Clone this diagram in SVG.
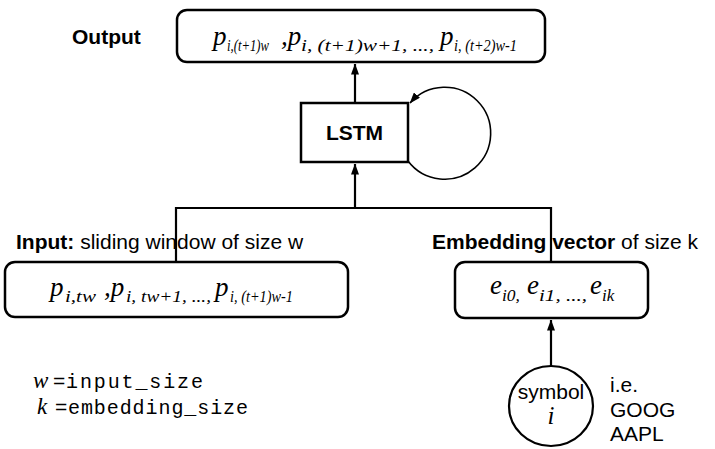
<svg xmlns="http://www.w3.org/2000/svg" width="715" height="449" viewBox="0 0 715 449">
<style>
.box{fill:#fff;stroke:#000;stroke-width:2.5}
.ln{fill:none;stroke:#000;stroke-width:2.2}
.thin{fill:none;stroke:#000;stroke-width:1.6}
.lbl{font-family:"Liberation Sans",Arial,sans-serif;font-size:21px;fill:#000}
.b{font-weight:bold}
.m{font-family:"Liberation Serif","Times New Roman",serif;font-style:italic;fill:#000}
.big{font-size:27px}
.sub{font-size:17px}
.mono{font-family:"Liberation Mono","Courier New",monospace;font-size:20px;fill:#000}
</style>
<defs>
<marker id="ah" markerWidth="11" markerHeight="8" refX="10.5" refY="4" orient="auto" markerUnits="userSpaceOnUse">
<path d="M0,0 L11,4 L0,8 z" fill="#000"/>
</marker>
</defs>
<rect width="715" height="449" fill="#fff"/>

<g id="connectors">
<line class="ln" x1="355" y1="103" x2="355" y2="64" marker-end="url(#ah)"/>
<line class="ln" x1="355" y1="208" x2="355" y2="164" marker-end="url(#ah)"/>
<line class="ln" x1="176" y1="208" x2="552" y2="208"/>
<line class="ln" x1="176" y1="207" x2="176" y2="262"/>
<line class="ln" x1="551" y1="207" x2="551" y2="262"/>
<line class="ln" x1="551" y1="366" x2="551" y2="320" marker-end="url(#ah)"/>
<path class="thin" d="M408,161 A46,46 0 1 0 410,103" marker-end="url(#ah)"/>
</g>

<g id="output-label">
<text class="lbl b" x="72" y="44">Output</text>
</g>

<g id="output">
<rect class="box" x="177" y="10" width="368" height="52" rx="10"/>
<text class="m big" x="213" y="45">p</text>
<text class="m sub" x="227" y="51" textLength="42" lengthAdjust="spacingAndGlyphs">i,(t+1)w</text>
<text class="m big" x="281" y="45">,p</text>
<text class="m sub" x="301" y="51" textLength="133" lengthAdjust="spacingAndGlyphs">i, (t+1)w+1, ...,</text>
<text class="m big" x="440" y="45">p</text>
<text class="m sub" x="454" y="51" textLength="63" lengthAdjust="spacingAndGlyphs">i, (t+2)w-1</text>
</g>

<g id="lstm">
<rect class="box" x="301" y="103" width="107" height="59"/>
<text class="lbl b" x="354.5" y="140" text-anchor="middle">LSTM</text>
</g>

<g id="input-label">
<text class="lbl" x="16" y="249"><tspan class="b">Input:</tspan> sliding window of size w</text>
</g>

<g id="input">
<rect class="box" x="5" y="262" width="343" height="55" rx="10"/>
<text class="m big" x="50" y="296">p</text>
<text class="m sub" x="65" y="302" textLength="31" lengthAdjust="spacingAndGlyphs">i,tw</text>
<text class="m big" x="104" y="296">,p</text>
<text class="m sub" x="126" y="302" textLength="85" lengthAdjust="spacingAndGlyphs">i, tw+1, ...,</text>
<text class="m big" x="215" y="296">p</text>
<text class="m sub" x="230" y="302" textLength="63" lengthAdjust="spacingAndGlyphs">i, (t+1)w-1</text>
</g>

<g id="embedding-label">
<text class="lbl" x="432" y="249"><tspan class="b">Embedding vector</tspan> of size k</text>
</g>

<g id="embedding">
<rect class="box" x="455" y="262" width="193" height="56" rx="10"/>
<text class="m big" x="490" y="294">e</text>
<text class="m sub" x="502" y="301" textLength="18" lengthAdjust="spacingAndGlyphs">i0,</text>
<text class="m big" x="527" y="294">e</text>
<text class="m sub" x="539" y="301" textLength="48" lengthAdjust="spacingAndGlyphs">i1, ...,</text>
<text class="m big" x="590" y="294">e</text>
<text class="m sub" x="602" y="301">ik</text>
</g>

<g id="symbol">
<ellipse class="ln" cx="551" cy="406" rx="42" ry="40" fill="#fff"/>
<text class="lbl" x="551" y="399" text-anchor="middle">symbol</text>
<text class="m" x="551" y="424" font-size="25" text-anchor="middle">i</text>
</g>

<g id="examples">
<text class="lbl" x="610" y="392">i.e.</text>
<text class="lbl" x="610" y="417">GOOG</text>
<text class="lbl" x="610" y="441">AAPL</text>
</g>

<g id="legend">
<text class="m" x="33" y="388" font-size="23">w</text>
<text class="lbl" x="53" y="388" font-size="18">=</text>
<text class="mono" x="66" y="388" textLength="137">input_size</text>
<text class="m" x="37" y="414" font-size="23">k</text>
<text class="lbl" x="55" y="414" font-size="18">=</text>
<text class="mono" x="68" y="414" textLength="180">embedding_size</text>
</g>
</svg>
